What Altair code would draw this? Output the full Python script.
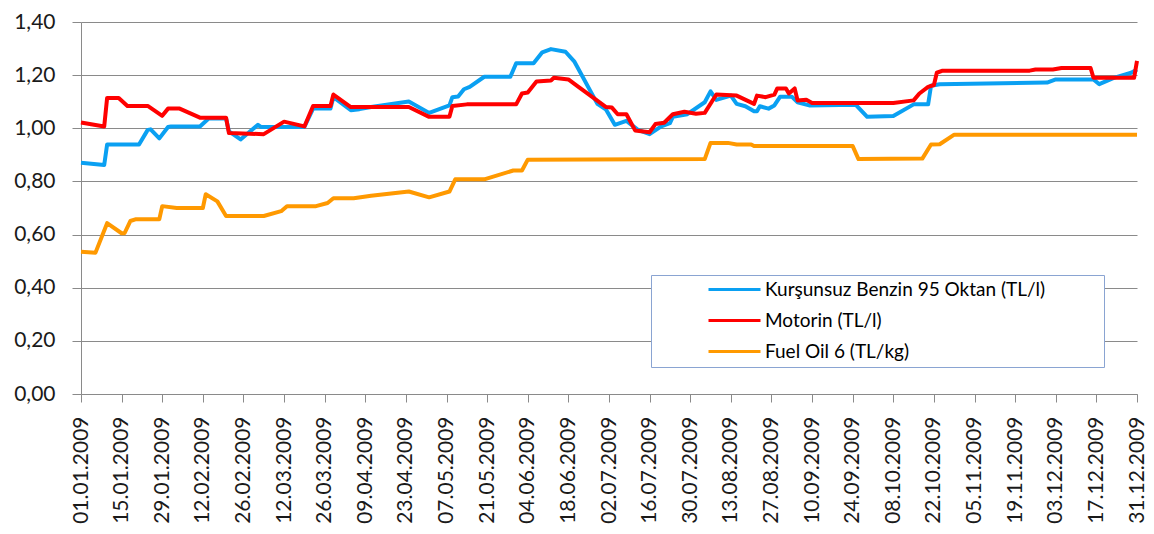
import altair as alt
import pandas as pd

START = pd.Timestamp("2009-01-01")

series_names = ["Kurşunsuz Benzin 95 Oktan (TL/l)", "Motorin (TL/l)", "Fuel Oil 6 (TL/kg)"]
series_colors = ["#0AA0F2", "#FF0000", "#FF9900"]

# day offsets from 01.01.2009 and prices
benzin_days = [0, 8, 9, 20, 23, 24, 27, 30, 31, 41, 44, 50, 51, 55, 61, 62, 77, 80, 86, 87, 93, 96,
               100, 113, 120, 127, 128, 130, 132, 134, 139, 148, 150, 156, 159, 162, 167, 170, 178,
               181, 184, 188, 192, 196, 200, 203, 204, 209, 215, 217, 219, 224, 226, 229, 232, 233,
               234, 237, 239, 241, 245, 247, 251, 267, 271, 280, 287, 292, 293, 296, 333, 336, 349,
               351, 356, 362, 364]
benzin_vals = [0.870, 0.862, 0.939, 0.939, 0.994, 0.996, 0.962, 1.005, 1.007, 1.007, 1.037, 1.037,
               0.988, 0.958, 1.013, 1.005, 1.005, 1.074, 1.074, 1.117, 1.068, 1.072, 1.080, 1.101,
               1.058, 1.086, 1.117, 1.120, 1.147, 1.156, 1.194, 1.194, 1.245, 1.245, 1.286, 1.298,
               1.288, 1.252, 1.092, 1.070, 1.013, 1.028, 0.994, 0.978, 1.007, 1.019, 1.043, 1.053,
               1.098, 1.139, 1.107, 1.123, 1.092, 1.083, 1.064, 1.064, 1.083, 1.074, 1.086, 1.119,
               1.119, 1.098, 1.086, 1.089, 1.043, 1.046, 1.090, 1.090, 1.160, 1.166, 1.172, 1.184,
               1.184, 1.166, 1.190, 1.209, 1.221]

motorin_days = [0, 8, 9, 13, 16, 23, 28, 30, 34, 41, 50, 51, 63, 70, 77, 80, 86, 87, 93, 113, 120,
                127, 128, 133, 150, 152, 154, 157, 162, 163, 168, 171, 181, 183, 185, 188, 191, 196,
                198, 201, 204, 208, 212, 215, 219, 226, 232, 233, 236, 239, 240, 243, 244, 246, 247,
                250, 252, 280, 287, 289, 292, 294, 295, 297, 327, 329, 335, 338, 348, 349, 363, 364]
motorin_vals = [1.022, 1.007, 1.114, 1.114, 1.084, 1.084, 1.047, 1.074, 1.074, 1.040, 1.040, 0.982,
                0.978, 1.025, 1.007, 1.084, 1.084, 1.127, 1.080, 1.080, 1.043, 1.043, 1.084, 1.090,
                1.090, 1.131, 1.135, 1.176, 1.180, 1.190, 1.184, 1.160, 1.080, 1.078, 1.053, 1.053,
                0.992, 0.985, 1.016, 1.021, 1.053, 1.062, 1.055, 1.058, 1.127, 1.123, 1.092, 1.123,
                1.117, 1.127, 1.150, 1.150, 1.131, 1.150, 1.105, 1.107, 1.095, 1.095, 1.105, 1.131,
                1.156, 1.163, 1.209, 1.217, 1.217, 1.221, 1.221, 1.227, 1.227, 1.190, 1.190, 1.254]

fueloil_days = [0, 5, 9, 14, 15, 17, 19, 27, 28, 33, 42, 43, 47, 50, 63, 69, 71, 81, 85, 87, 94,
                100, 113, 120, 127, 129, 139, 149, 152, 154, 215, 217, 223, 226, 231, 232, 266, 268,
                290, 293, 296, 301, 364]
fueloil_vals = [0.535, 0.532, 0.643, 0.605, 0.605, 0.651, 0.658, 0.658, 0.707, 0.700, 0.700, 0.752,
                0.725, 0.670, 0.670, 0.688, 0.707, 0.707, 0.719, 0.737, 0.737, 0.746, 0.762, 0.740,
                0.762, 0.808, 0.808, 0.841, 0.841, 0.882, 0.884, 0.945, 0.945, 0.939, 0.939, 0.933,
                0.933, 0.884, 0.886, 0.939, 0.940, 0.976, 0.976]

# x-axis tick labels: every 14 days
tick_labels = ["01.01.2009", "15.01.2009", "29.01.2009", "12.02.2009", "26.02.2009", "12.03.2009",
               "26.03.2009", "09.04.2009", "23.04.2009", "07.05.2009", "21.05.2009", "04.06.2009",
               "18.06.2009", "02.07.2009", "16.07.2009", "30.07.2009", "13.08.2009", "27.08.2009",
               "10.09.2009", "24.09.2009", "08.10.2009", "22.10.2009", "05.11.2009", "19.11.2009",
               "03.12.2009", "17.12.2009", "31.12.2009"]
y_ticks = [0.0, 0.2, 0.4, 0.6, 0.8, 1.0, 1.2, 1.4]

frames = []
for name, days, vals in [(series_names[0], benzin_days, benzin_vals),
                         (series_names[1], motorin_days, motorin_vals),
                         (series_names[2], fueloil_days, fueloil_vals)]:
    dates = [(START + pd.Timedelta(days=d)).strftime("%Y-%m-%d") for d in days]
    frames.append(pd.DataFrame({"date": dates, "value": vals, "series": name}))
df = pd.concat(frames, ignore_index=True)

def to_dt(s):
    d, m, y = s.split(".")
    return alt.DateTime(year=int(y), month=int(m), date=int(d), utc=True)

tick_values = [to_dt(s) for s in tick_labels]

FONT = "Lato"
GRAY = "#8a8a8a"

chart = alt.Chart(df).mark_line(strokeWidth=4, strokeJoin="round").encode(
    x=alt.X("date:T",
            scale=alt.Scale(type="utc", domain=[tick_values[0], tick_values[-1]], nice=False),
            axis=alt.Axis(values=tick_values, format="%d.%m.%Y", labelAngle=-90,
                          labelAlign="right", labelBaseline="middle", labelPadding=14,
                          tickSize=8, grid=False, title=None, labelOverlap=False,
                          labelFlush=False)),
    y=alt.Y("value:Q",
            scale=alt.Scale(domain=[0, 1.4], nice=False, zero=True),
            axis=alt.Axis(values=y_ticks, labelExpr="replace(format(datum.value, '.2f'), '.', ',')",
                          tickSize=9, labelPadding=17, grid=True, title=None)),
    color=alt.Color("series:N",
                    scale=alt.Scale(domain=series_names, range=series_colors),
                    legend=alt.Legend(orient="none", legendX=570, legendY=253, title=" ",
                                      titleOrient="right", titleFontSize=10, titlePadding=54,
                                      symbolType="stroke", symbolSize=2704, symbolStrokeWidth=3,
                                      clipHeight=19, rowPadding=11, labelFont=FONT,
                                      labelFontSize=19, labelColor="#000000", padding=5,
                                      symbolOffset=51, labelOffset=3, strokeColor="#8aa4d2",
                                      fillColor="white", labelLimit=400)),
).properties(
    width=1056, height=372,
    autosize=alt.AutoSizeParams(type="none"),
    padding={"left": 73, "top": 14, "right": 9, "bottom": 130},
).configure_view(stroke=None).configure_axis(
    labelFont=FONT, labelFontSize=21, labelColor="#1a1a1a",
    domainColor=GRAY, tickColor=GRAY, gridColor=GRAY, domainWidth=1, gridWidth=1, tickWidth=1,
)

chart.save("out.html", embed_options={"renderer": "svg", "actions": False})
